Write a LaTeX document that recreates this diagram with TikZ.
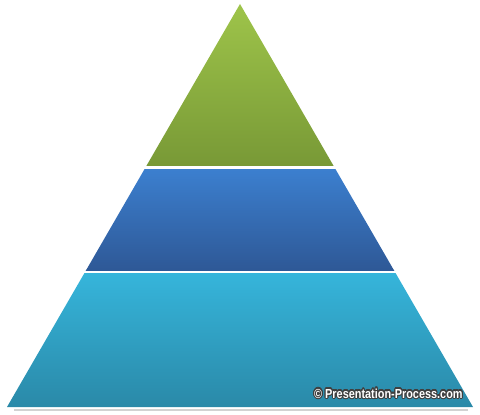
\documentclass[tikz,border=0pt]{standalone}
\usepackage{fontspec}
\usepackage{contour}
\setmainfont{Liberation Sans}
\usetikzlibrary{calc}
\contourlength{0.6pt}

\begin{document}
\begin{tikzpicture}[x=0.02cm,y=-0.02cm]
        \useasboundingbox (0,0) rectangle (480,415);
        % Sommet et coins
        \coordinate (apex) at (240,4);
        \coordinate (botL) at (7,407);
        \coordinate (botR) at (473,407);
        
        % Ombre
        \draw[gray!35, line width=1.2pt] (14,410) -- (468,410);
        
        % Etage bas
        \shade[top color={rgb,255:red,54;green,182;blue,220}, bottom color={rgb,255:red,42;green,137;blue,168}]
            ($(apex)!266/403!(botL)$) -- ($(apex)!266/403!(botR)$) -- (botR) -- (botL) -- cycle;
        
        % Etage milieu
        \shade[top color={rgb,255:red,60;green,128;blue,208}, bottom color={rgb,255:red,46;green,88;blue,150}]
            ($(apex)!163/403!(botL)$) -- ($(apex)!163/403!(botR)$) -- ($(apex)!267/403!(botR)$) -- ($(apex)!267/403!(botL)$) -- cycle;
        
        % Sommet
        \shade[top color={rgb,255:red,158;green,196;blue,74}, bottom color={rgb,255:red,120;green,153;blue,54}]
            (apex) -- ($(apex)!162/403!(botR)$) -- ($(apex)!162/403!(botL)$) -- cycle;
        
        % Separations
        \draw[white, line width=1.6pt] ($(apex)!163.5/403!(botL)+(-5,0)$) -- ($(apex)!163.5/403!(botR)+(5,0)$);
        \draw[white, line width=1.6pt] ($(apex)!268/403!(botL)+(-5,0)$) -- ($(apex)!268/403!(botR)+(5,0)$);
        
        % Copyright
        \node[white, font=\bfseries\fontsize{6.2}{7}\selectfont, anchor=east, yscale=1.2, inner sep=0pt] (credit) at (463,394) {\contour{black!75}{© Presentation-Process.com}};
    \end{tikzpicture}
\end{document}
